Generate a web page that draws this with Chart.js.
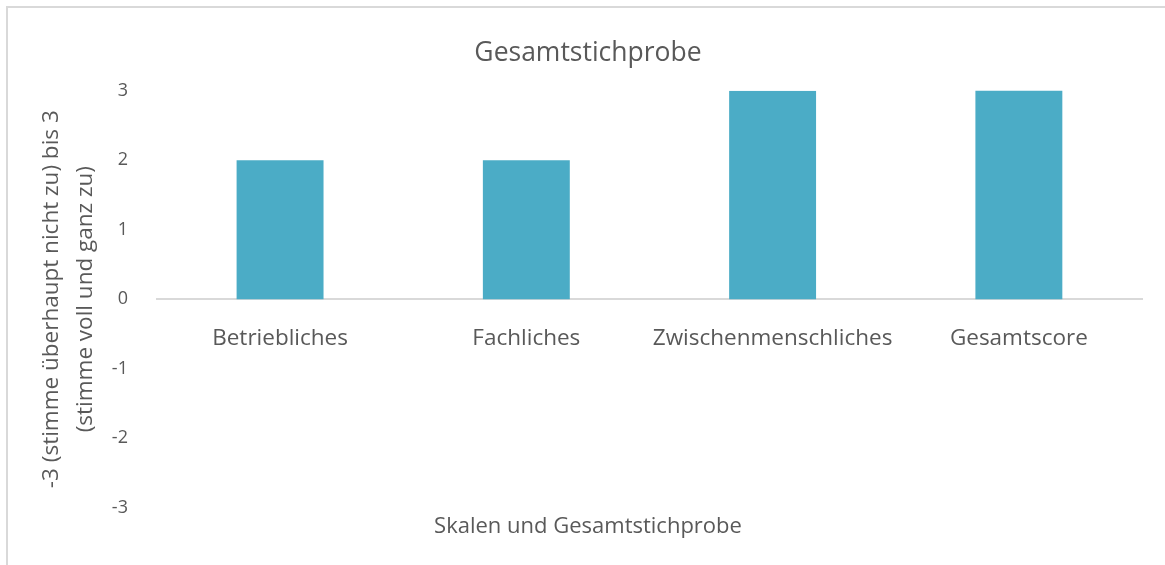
<!DOCTYPE html>
<html>
<head>
<meta charset="utf-8">
<script src="https://cdn.jsdelivr.net/npm/chart.js@4.4.1/dist/chart.umd.min.js"></script>
<style>
    html, body { margin: 0; padding: 0; background: #fff; overflow: hidden; }
    #frame { position: absolute; left: 6px; top: 6px; width: 1300px; height: 700px; border: 2px solid #d9d9d9; }
    #wrap { position: absolute; left: 0; top: 0; width: 1165px; height: 565px; }
</style>
</head>
<body>
<div id="frame"></div>
<div id="wrap"><canvas id="chart"></canvas></div>
<script>
var CATEGORIES = ['Betriebliches', 'Fachliches', 'Zwischenmenschliches', 'Gesamtscore'];
var VALUES = [2.0, 2.0, 3.0, 3.01];
var Y_MIN = -3, Y_MAX = 3, Y_STEP = 1;
var TITLE = 'Gesamtstichprobe';
var X_TITLE = 'Skalen und Gesamtstichprobe';
var Y_TITLE = ['-3 (stimme überhaupt nicht zu) bis 3', '(stimme voll und ganz zu)'];

var TEXT = '#595959';
var FONT = "'Open Sans', 'Noto Sans', sans-serif";

new Chart(document.getElementById('chart'), {
    type: 'bar',
    data: {
        labels: CATEGORIES,
        datasets: [{ data: VALUES, backgroundColor: '#4bacc6', borderWidth: 0,
            categoryPercentage: 1, barPercentage: 0.353 }]
    },
    options: {
        responsive: true, maintainAspectRatio: false, animation: false,
        layout: { padding: { left: 34, right: 23, top: 0, bottom: 0 } },
        plugins: {
            legend: { display: false },
            tooltip: { enabled: false },
            title: { display: true, text: TITLE, color: TEXT,
                font: { family: FONT, size: 26.5, weight: 'normal' }, padding: { top: 38, bottom: 21 } },
            subtitle: { display: true, position: 'bottom', text: X_TITLE, color: TEXT,
                font: { family: FONT, size: 22 }, padding: { top: 6, bottom: 25 } }
        },
        scales: {
            x: {
                position: { y: 0 },
                grid: { display: false },
                border: { display: true, color: '#d9d9d9', width: 2 },
                ticks: { color: TEXT, font: { family: FONT, size: 22.5 }, padding: 18, maxRotation: 0 }
            },
            y: {
                min: Y_MIN, max: Y_MAX,
                grid: { display: false },
                border: { display: false },
                ticks: { stepSize: Y_STEP, color: TEXT, font: { family: FONT, size: 18 }, padding: 21 },
                title: { display: true, text: Y_TITLE, color: TEXT,
                    font: { family: FONT, size: 22.5, lineHeight: 1.53 }, padding: { top: 0, bottom: -12 } }
            }
        }
    }
});
</script>
</body>
</html>
